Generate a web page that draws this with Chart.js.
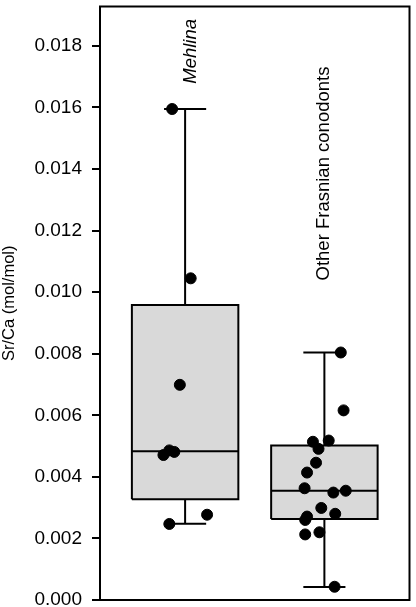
<!DOCTYPE html>
<html>
<head>
<meta charset="utf-8">
<script src="https://cdn.jsdelivr.net/npm/chart.js@4/dist/chart.umd.min.js"></script>
<style>
  html, body { margin: 0; padding: 0; background: #fff; }
  #wrap { width: 416px; height: 607px; }
</style>
</head>
<body>
<div id="wrap"><canvas id="graficaSrCa" width="416" height="607"></canvas></div>
<script>
// categorias y posicion en el eje x (escala lineal oculta 0..10)
const groups = ['Mehlina', 'Other Frasnian conodonts'];
const groupCenters = [2.75, 7.25];

// resumen de cajas
const whiskerLow  = [0.00248, 0.00042];
const q1          = [0.00327, 0.00263];
const medians     = [0.00483, 0.00355];
const q3          = [0.00958, 0.00502];
const whiskerHigh = [0.01595, 0.00804];

// puntos individuales
const mehlinaValues = [0.01595, 0.01045, 0.00699, 0.00471, 0.00486, 0.00481, 0.00247, 0.00277];
const mehlinaJitter = [-0.42, 0.18, -0.17, -0.70, -0.51, -0.35, -0.51, 0.71];
const otherValues = [0.00804, 0.00616, 0.00514, 0.00518, 0.00491, 0.00446, 0.00414, 0.00363, 0.00349,
                     0.00355, 0.00299, 0.00280, 0.00271, 0.00260, 0.00213, 0.00220, 0.00043];
const otherJitter = [0.53, 0.62, -0.37, 0.14, -0.19, -0.27, -0.56, -0.64, 0.29,
                     0.69, -0.10, 0.35, -0.56, -0.62, -0.62, -0.16, 0.33];

const yTicks = [0, 0.002, 0.004, 0.006, 0.008, 0.010, 0.012, 0.014, 0.016, 0.018];

const BOX_HALF = 1.72;
const CAP_HALF = 0.68;
const FONT = '"Liberation Sans", Arial, sans-serif';

Chart.defaults.font.family = FONT;
Chart.defaults.color = '#000';

function boxShape(i) {
    const c = groupCenters[i];
    return [
        { x: c - BOX_HALF, y: q1[i] }, { x: c + BOX_HALF, y: q1[i] },
        { x: c + BOX_HALF, y: q3[i] }, { x: c - BOX_HALF, y: q3[i] },
        { x: c - BOX_HALF, y: q1[i] }
    ];
}

function whiskers(i) {
    const c = groupCenters[i];
    return [
        { x: c, y: q3[i] }, { x: c, y: whiskerHigh[i] }, { x: c, y: null },
        { x: c - CAP_HALF, y: whiskerHigh[i] }, { x: c + CAP_HALF, y: whiskerHigh[i] }, { x: c, y: null },
        { x: c, y: q1[i] }, { x: c, y: whiskerLow[i] }, { x: c, y: null },
        { x: c - CAP_HALF, y: whiskerLow[i] }, { x: c + CAP_HALF, y: whiskerLow[i] }
    ];
}

function medianLine(i) {
    const c = groupCenters[i];
    return [{ x: c - BOX_HALF, y: medians[i] }, { x: c + BOX_HALF, y: medians[i] }];
}

const lineStyle = {
    type: 'line', showLine: true, borderColor: '#000', borderWidth: 2,
    pointRadius: 0, fill: false, spanGaps: false, tension: 0
};

// marco completo alrededor del area del grafico
const framePlugin = {
    id: 'frame',
    afterDatasetsDraw(chart) {
        const a = chart.chartArea, ctx = chart.ctx;
        ctx.save();
        ctx.strokeStyle = '#000';
        ctx.lineWidth = 2;
        ctx.strokeRect(a.left, a.top, a.right - a.left, a.bottom - a.top);
        ctx.restore();
    }
};

// etiquetas verticales de cada grupo
const groupLabels = {
    id: 'groupLabels',
    afterDatasetsDraw(chart, args, opts) {
        const ctx = chart.ctx, xs = chart.scales.x, ys = chart.scales.y;
        opts.anchors.forEach(function (a, i) {
            ctx.save();
            ctx.translate(xs.getPixelForValue(a.x), ys.getPixelForValue(a.y));
            ctx.rotate(-Math.PI / 2);
            ctx.font = (a.italic ? 'italic ' : '') + '18.5px ' + FONT;
            ctx.fillStyle = '#000';
            ctx.textAlign = 'left';
            ctx.textBaseline = 'middle';
            ctx.fillText(groups[i], 0, 0);
            ctx.restore();
        });
    }
};

new Chart(document.getElementById('graficaSrCa').getContext('2d'), {
    type: 'scatter',
    data: {
        datasets: [
            {
                label: groups[0],
                data: mehlinaValues.map((v, k) => ({ x: groupCenters[0] + mehlinaJitter[k], y: v })),
                backgroundColor: '#000', borderColor: '#000', pointRadius: 5.5, order: 0
            },
            {
                label: groups[1],
                data: otherValues.map((v, k) => ({ x: groupCenters[1] + otherJitter[k], y: v })),
                backgroundColor: '#000', borderColor: '#000', pointRadius: 5.5, order: 0
            },
            Object.assign({}, lineStyle, { data: medianLine(0), order: 1 }),
            Object.assign({}, lineStyle, { data: medianLine(1), order: 1 }),
            Object.assign({}, lineStyle, { data: whiskers(0), order: 2 }),
            Object.assign({}, lineStyle, { data: whiskers(1), order: 2 }),
            Object.assign({}, lineStyle, { data: boxShape(0), fill: 'shape', backgroundColor: '#d9d9d9', order: 3 }),
            Object.assign({}, lineStyle, { data: boxShape(1), fill: 'shape', backgroundColor: '#d9d9d9', order: 3 })
        ]
    },
    options: {
        responsive: false,
        animation: false,
        devicePixelRatio: 1,
        layout: { padding: { top: 2, right: 3, bottom: 7, left: 0 } },
        plugins: {
            legend: { display: false },
            tooltip: { enabled: false },
            groupLabels: {
                anchors: [
                    { x: 2.94, y: 0.01677, italic: true },
                    { x: 7.22, y: 0.01038, italic: false }
                ]
            }
        },
        scales: {
            x: { type: 'linear', min: 0, max: 10, display: false },
            y: {
                min: 0,
                max: 0.01928,
                afterFit(scale) {
                    scale.width = 100;
                    scale.paddingTop = 0;
                    scale.paddingBottom = 0;
                },
                afterBuildTicks(scale) { scale.ticks = yTicks.map(v => ({ value: v })); },
                ticks: {
                    padding: 10,
                    font: { size: 19 },
                    color: '#000',
                    callback: v => v.toFixed(3)
                },
                grid: {
                    drawOnChartArea: false,
                    drawTicks: true,
                    tickLength: 8,
                    color: '#000',
                    lineWidth: 2
                },
                border: { display: false },
                title: {
                    display: true,
                    text: 'Sr/Ca (mol/mol)',
                    font: { size: 16.5 },
                    color: '#000',
                    padding: 0
                }
            }
        }
    },
    plugins: [framePlugin, groupLabels]
});
</script>
</body>
</html>
